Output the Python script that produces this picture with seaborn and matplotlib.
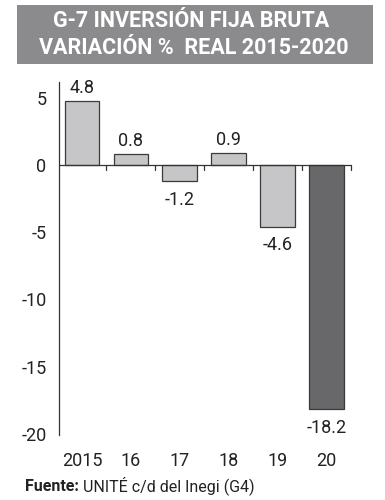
import matplotlib
matplotlib.use("Agg")
import matplotlib.pyplot as plt
from matplotlib.patches import Rectangle
import seaborn as sns
import pandas as pd
import numpy as np

years = ["2015", "16", "17", "18", "19", "20"]
values = [4.8, 0.8, -1.2, 0.9, -4.6, -18.2]
labels = ["4.8", "0.8", "-1.2", "0.9", "-4.6", "-18.2"]
yticks = [5, 0, -5, -10, -15, -20]
title_lines = ["G-7 INVERSIÓN FIJA BRUTA", "VARIACIÓN %  REAL 2015-2020"]
source_bold = "Fuente:"
source_rest = " UNITÉ c/d del Inegi (G4)"

sns.set_theme(style="white")
plt.rcParams["font.family"] = ["Roboto", "DejaVu Sans"]

df = pd.DataFrame({"year": years, "value": values,
                   "kind": ["a"] * 5 + ["b"]})

fig = plt.figure(figsize=(3.85, 5.0), dpi=100)
ax = fig.add_axes([59/385, 1-435/500, (356-59)/385, (435-82)/500])
sns.barplot(data=df, x="year", y="value", hue="kind", dodge=False,
            palette={"a": "#c6c6c8", "b": "#68686a"}, edgecolor="#3a3a3a",
            linewidth=0.9, width=0.71, legend=False, ax=ax)

ax.set_xlim(-0.47, 5.6)
ax.set_ylim(-20.1, 6.2)
ax.set_yticks(yticks)
ax.set_yticklabels([str(t) for t in yticks], fontsize=13, color="#222")
ax.set_xlabel("")
ax.set_ylabel("")
for s in ["top", "right", "bottom"]:
    ax.spines[s].set_visible(False)
ax.spines["left"].set_color("#333")
ax.spines["left"].set_linewidth(0.9)
ax.tick_params(axis="y", direction="out", length=4, width=0.9, color="#333", pad=5)
ax.tick_params(axis="x", length=0, pad=12, labelsize=13, labelcolor="#222")
ax.set_xticks(range(len(years)))
ax.set_xticklabels(years)

# zero line and small ticks between categories
ax.plot([-0.47, 5.5], [0, 0], color="#333", lw=0.9, zorder=3, clip_on=False)
for i in range(len(years)):
    ax.plot([i + 0.5, i + 0.5], [0, -0.35], color="#333", lw=0.9, zorder=3, clip_on=False)

for i, (v, lab) in enumerate(zip(values, labels)):
    if v >= 0:
        ax.text(i, v + 0.3, lab, ha="center", va="bottom", fontsize=13, color="#222")
    else:
        ax.text(i, v - 0.7, lab, ha="center", va="top", fontsize=13, color="#222")

# title banner
fig.patches.append(Rectangle((17/385, 1-64/500), (373-17)/385, (64-5)/500,
                             transform=fig.transFigure, facecolor="#8b8b8d",
                             edgecolor="none", zorder=0))
fig.text(191/385, 1-21/500, title_lines[0], ha="center", va="center",
         fontsize=15.5, fontweight="bold", color="white")
fig.text(194/385, 1-48/500, title_lines[1], ha="center", va="center",
         fontsize=15.5, fontweight="bold", color="white")

t = fig.text(25/385, 1-491/500, source_bold, ha="left", va="baseline",
             fontsize=11.5, fontweight="bold", color="#222")
fig.canvas.draw()
bb = t.get_window_extent()
fig.text(bb.x1/385, 1-491/500, source_rest, ha="left", va="baseline",
         fontsize=11.5, color="#222")

fig.savefig("out.png", dpi=100)
